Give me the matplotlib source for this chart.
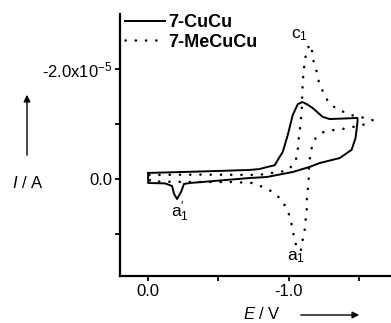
import numpy as np
import matplotlib.pyplot as plt

plt.rcParams['font.family'] = ['Liberation Sans', 'DejaVu Sans']
plt.rcParams['mathtext.fontset'] = 'custom'
plt.rcParams['mathtext.rm'] = 'Liberation Sans'
plt.rcParams['mathtext.it'] = 'Liberation Sans:italic'
plt.rcParams['mathtext.bf'] = 'Liberation Sans:bold'

# current in units of 1e-5 A, cathodic (negative) current points up
cucu_fwd_E = [0.0, -0.37, -0.72, -0.79, -0.85, -0.90, -0.93, -0.957, -0.993, -1.028,
              -1.064, -1.097, -1.135, -1.17, -1.241, -1.29, -1.397, -1.489]
cucu_fwd_I = [-0.11, -0.136, -0.164, -0.18, -0.22, -0.25, -0.38, -0.49, -0.80, -1.16,
              -1.36, -1.40, -1.35, -1.29, -1.13, -1.09, -1.10, -1.11]
cucu_rev_E = [-1.489, -1.475, -1.447, -1.362, -1.22, -1.149, -1.028, -0.844, -0.723,
              -0.298, -0.255, -0.234, -0.206, -0.184, -0.17, -0.12, 0.0, 0.0]
cucu_rev_I = [-1.04, -0.745, -0.53, -0.38, -0.29, -0.22, -0.127, -0.036, -0.018,
              0.073, 0.09, 0.236, 0.364, 0.27, 0.127, 0.08, 0.073, -0.11]

mecucu_fwd_E = [-0.007, -0.369, -0.773, -0.844, -0.915, -0.986, -1.043, -1.064, -1.066,
                -1.078, -1.085, -1.092, -1.097, -1.099, -1.106, -1.113, -1.125, -1.149,
                -1.17, -1.177, -1.199, -1.213, -1.241, -1.277, -1.34, -1.411, -1.482,
                -1.553, -1.596]
mecucu_fwd_I = [-0.073, -0.08, -0.073, -0.09, -0.127, -0.145, -0.29, -0.47, -0.65,
                -0.855, -1.04, -1.25, -1.58, -1.76, -1.95, -2.13, -2.31, -2.45,
                -2.29, -2.13, -1.95, -1.78, -1.60, -1.42, -1.27, -1.20, -1.13,
                -1.11, -1.07]
mecucu_rev_E = [-1.525, -1.454, -1.383, -1.319, -1.248, -1.191, -1.163, -1.149, -1.142,
                -1.142, -1.135, -1.128, -1.128, -1.12, -1.113, -1.099, -1.092, -1.078,
                -1.064, -1.043, -1.028, -1.014, -0.993, -0.95, -0.887, -0.816, -0.738,
                -0.603, -0.298, -0.014, -0.007]
mecucu_rev_I = [-0.98, -0.945, -0.91, -0.89, -0.855, -0.745, -0.56, -0.36, -0.16,
                0.02, 0.20, 0.38, 0.56, 0.745, 0.93, 1.11, 1.27, 1.31,
                1.29, 1.13, 0.93, 0.745, 0.58, 0.38, 0.236, 0.145, 0.073,
                0.055, 0.055, 0.045, -0.073]

x_ticks = [0.0, -0.5, -1.0, -1.5]
x_labels = ['0.0', '', '-1.0', '']
y_ticks = [1e-5, 0.0, -1e-5, -2e-5]
y_labels = ['', '0.0', '', '-2.0x10$^{-5}$']

scale = 1e-5
cucu_E = np.array(cucu_fwd_E + cucu_rev_E)
cucu_I = np.array(cucu_fwd_I + cucu_rev_I) * scale
me_E = np.array(mecucu_fwd_E + mecucu_rev_E)
me_I = np.array(mecucu_fwd_I + mecucu_rev_I) * scale

fig = plt.figure(figsize=(3.91, 3.23), dpi=100)
ax = fig.add_axes([120/391, 1 - 276/323, 270/391, 262/323])

ax.plot(cucu_E, cucu_I, color='black', lw=1.4, label='7-CuCu',
        solid_joinstyle='round')
ax.plot(me_E, me_I, color='black', lw=1.8, linestyle=(0, (0.1, 4.0)),
        dash_capstyle='round', label='7-MeCuCu')

ax.set_xlim(0.2, -1.72)
ax.set_ylim(1.764e-5, -3.0e-5)
ax.set_xticks(x_ticks)
ax.set_xticklabels(x_labels)
ax.set_yticks(y_ticks)
ax.set_yticklabels(y_labels)
ax.tick_params(direction='out', length=3.5, width=1.3, labelsize=12, pad=2)

for s in ['top', 'right']:
    ax.spines[s].set_visible(False)
for s in ['left', 'bottom']:
    ax.spines[s].set_linewidth(1.6)

leg = ax.legend(loc='upper left', bbox_to_anchor=(0.02, 1.0), frameon=False,
                handlelength=2.2, handletextpad=0.2, labelspacing=0.15,
                borderpad=0, borderaxespad=0, prop={'weight': 'bold', 'size': 13})

# peak labels
ax.text(-1.014, -2.62e-5, 'c$_1$', fontsize=12.5, ha='left', va='center')
ax.text(-0.163, 0.6e-5, 'a$_1^{\\prime}$', fontsize=12.5, ha='left', va='center')
ax.text(-0.986, 1.43e-5, 'a$_1$', fontsize=12.5, ha='left', va='center')

# axis titles with direction arrows
fig.text(28/391, 1 - 183/323, '$I$ / A', fontsize=12, ha='center', va='center')
fig.text(262/391, 1 - 314/323, '$E$ / V', fontsize=12, ha='center', va='center')
ax.annotate('', xy=(27/391, 1 - 92/323), xytext=(27/391, 1 - 158/323),
            xycoords='figure fraction', textcoords='figure fraction',
            arrowprops=dict(arrowstyle='-|>', color='black', lw=1.0, mutation_scale=10),
            annotation_clip=False)
ax.annotate('', xy=(362/391, 1 - 315/323), xytext=(298/391, 1 - 315/323),
            xycoords='figure fraction', textcoords='figure fraction',
            arrowprops=dict(arrowstyle='-|>', color='black', lw=1.0, mutation_scale=10),
            annotation_clip=False)

fig.savefig('out.png', dpi=100)
